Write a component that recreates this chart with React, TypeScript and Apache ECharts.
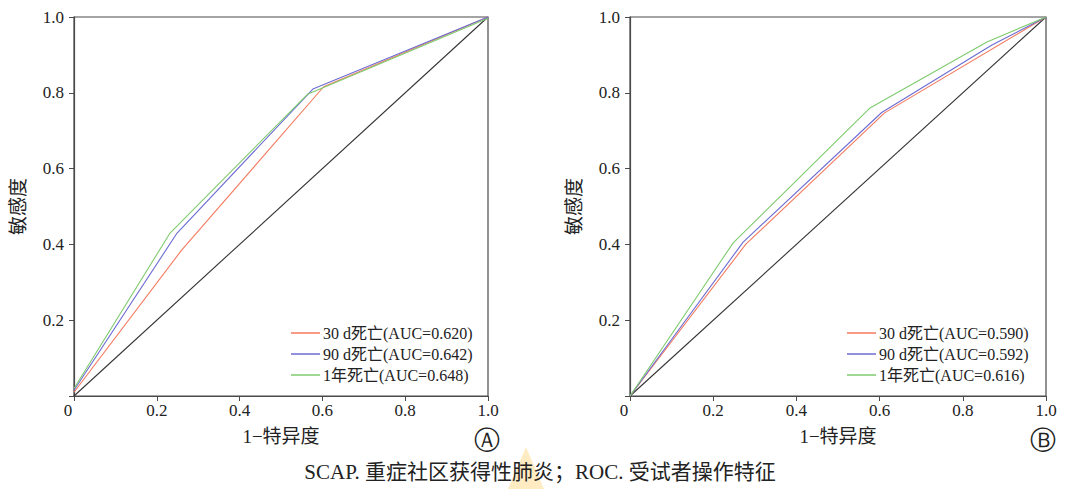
import React, { useEffect, useRef } from "react";
import * as echarts from "echarts";

const FONT = "'Liberation Serif', 'Noto Sans CJK SC', serif";

// Panel A
const aNames = ["30 d死亡(AUC=0.620)", "90 d死亡(AUC=0.642)", "1年死亡(AUC=0.648)"];
const aX30 = [0, 0.26, 0.603, 1];
const aY30 = [0.01, 0.385, 0.816, 1];
const aX90 = [0, 0.249, 0.577, 1];
const aY90 = [0.015, 0.43, 0.81, 1];
const aX1y = [0, 0.232, 0.565, 0.603, 1];
const aY1y = [0.02, 0.43, 0.797, 0.814, 0.997];

// Panel B
const bNames = ["30 d死亡(AUC=0.590)", "90 d死亡(AUC=0.592)", "1年死亡(AUC=0.616)"];
const bX30 = [0, 0.278, 0.612, 1];
const bY30 = [0, 0.4, 0.747, 1];
const bX90 = [0, 0.272, 0.605, 0.87, 1];
const bY90 = [0, 0.406, 0.748, 0.926, 1];
const bX1y = [0, 0.248, 0.577, 0.858, 1];
const bY1y = [0, 0.404, 0.76, 0.934, 1];

const diagX = [0, 1];
const diagY = [0, 1];

const colors = ["#F47A5E", "#6C6CD4", "#7FCB6E"];

const xTitle = "1−特异度";
const yTitle = "敏感度";
const caption = "SCAP. 重症社区获得性肺炎；ROC. 受试者操作特征";

const zip = (xs: number[], ys: number[]) => xs.map((x, i) => [x, ys[i]]);

export default function App() {
  const ref = useRef<HTMLDivElement>(null);
  useEffect(() => {
    if (!ref.current) return;
    const chart = echarts.init(ref.current, null, { renderer: "svg" });
    const axisColor = "#4a4a4a";
    const mkX = (gi: number) => ({
      type: "value",
      gridIndex: gi,
      min: 0,
      max: 1,
      interval: 0.2,
      name: xTitle,
      nameLocation: "middle",
      nameGap: 31,
      nameTextStyle: { fontFamily: FONT, fontSize: 19, color: "#222" },
      axisLine: { show: true, lineStyle: { color: axisColor, width: 1.2 } },
      axisTick: { show: true, length: 5, lineStyle: { color: axisColor } },
      splitLine: { show: false },
      axisLabel: {
        fontFamily: FONT,
        fontSize: 17,
        color: "#222",
        margin: 6,
        formatter: (v: number) => (v === 0 ? "{z|0}" : v.toFixed(1)),
        rich: { z: { fontFamily: FONT, fontSize: 17, color: "#222", padding: [0, 12, 0, 0] } },
      },
    });
    const mkY = (gi: number) => ({
      type: "value",
      gridIndex: gi,
      min: 0,
      max: 1,
      interval: 0.2,
      name: yTitle,
      nameLocation: "middle",
      nameGap: 46,
      nameRotate: 90,
      nameTextStyle: { fontFamily: FONT, fontSize: 19, color: "#222" },
      axisLine: { show: true, lineStyle: { color: axisColor, width: 1.2 } },
      axisTick: { show: true, length: 5, lineStyle: { color: axisColor } },
      splitLine: { show: false },
      axisLabel: {
        fontFamily: FONT,
        fontSize: 17,
        color: "#222",
        margin: 10,
        formatter: (v: number) => (v === 0 ? "" : v.toFixed(1)),
      },
    });
    const mkLine = (name: string, xs: number[], ys: number[], color: string, gi: number) => ({
      type: "line",
      name,
      xAxisIndex: gi,
      yAxisIndex: gi,
      data: zip(xs, ys),
      symbol: "none",
      lineStyle: { color, width: 1.1 },
      itemStyle: { color },
      silent: true,
    });
    const legendBase = {
      orient: "vertical",
      top: 319,
      icon: "rect",
      itemWidth: 29,
      itemHeight: 1.5,
      itemGap: 3,
      textStyle: { fontFamily: FONT, fontSize: 16, color: "#222", lineHeight: 18, padding: [0, 0, 0, -2] },
      selectedMode: false,
    };
    chart.setOption({
      animation: false,
      backgroundColor: "#fff",
      grid: [
        { left: 74, top: 17, width: 414, height: 379, show: true, borderColor: axisColor, borderWidth: 1.2 },
        { left: 630, top: 17, width: 416, height: 379, show: true, borderColor: axisColor, borderWidth: 1.2 },
      ],
      xAxis: [mkX(0), mkX(1)],
      yAxis: [mkY(0), mkY(1)],
      legend: [
        { ...legendBase, left: 286, data: aNames },
        { ...legendBase, left: 842, data: bNames },
      ],
      series: [
        mkLine("diagA", diagX, diagY, "#333", 0),
        mkLine(aNames[0], aX30, aY30, colors[0], 0),
        mkLine(aNames[1], aX90, aY90, colors[1], 0),
        mkLine(aNames[2], aX1y, aY1y, colors[2], 0),
        mkLine("diagB", diagX, diagY, "#333", 1),
        mkLine(bNames[0], bX30, bY30, colors[0], 1),
        mkLine(bNames[1], bX90, bY90, colors[1], 1),
        mkLine(bNames[2], bX1y, bY1y, colors[2], 1),
      ],
      graphic: [
        {
          type: "polygon",
          shape: { points: [[508, 489], [526, 447], [544, 489]] },
          style: { fill: "rgba(255, 200, 80, 0.35)" },
          silent: true,
        },
        {
          type: "text",
          x: 487,
          y: 440,
          style: { text: "Ⓐ", fontFamily: "'DejaVu Sans', sans-serif", fontSize: 26, fill: "#222", align: "center", verticalAlign: "middle" },
        },
        {
          type: "text",
          x: 1043,
          y: 440,
          style: { text: "Ⓑ", fontFamily: "'DejaVu Sans', sans-serif", fontSize: 26, fill: "#222", align: "center", verticalAlign: "middle" },
        },
        {
          type: "text",
          x: 540,
          y: 472,
          style: { text: caption, fontFamily: FONT, fontSize: 21, fill: "#222", align: "center", verticalAlign: "middle" },
        },
      ],
    });
    return () => chart.dispose();
  }, []);
  return (
    <div
      ref={ref}
      style={{ position: "absolute", left: 0, top: 0, width: 1083, height: 489 }}
    />
  );
}
